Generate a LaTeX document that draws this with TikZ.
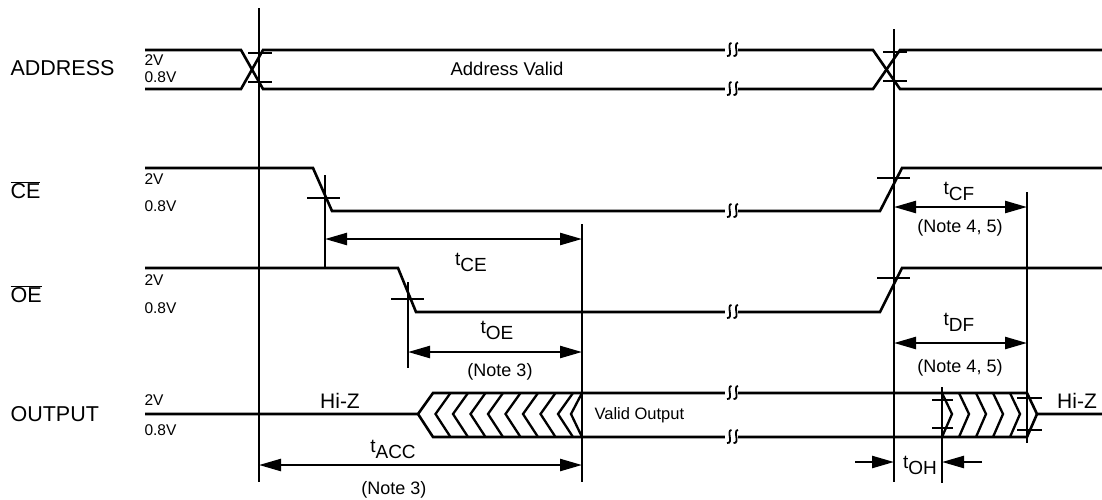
\documentclass[tikz,border=0pt]{standalone}
\usepackage{fontspec}
\setmainfont{Liberation Sans}
\usetikzlibrary{arrows.meta}

\newcommand{\tsub}[1]{t\raisebox{-0.32em}{#1}}
\newcommand{\sigbreak}[2]{%
  \fill[white] (#1-6,#2-3) rectangle (#1+7,#2+3);
  \draw[line width=1.8pt] (#1+0.5,#2-7) .. controls (#1-5,#2-7) and (#1+3,#2+7) .. (#1-4,#2+6);
  \draw[line width=1.8pt] (#1+7,#2-7) .. controls (#1+1.5,#2-7) and (#1+9.5,#2+7) .. (#1+2.5,#2+6);
}

\tikzset{
  sig/.style={line width=2.6pt},
  refline/.style={line width=2.4pt},
  tickline/.style={line width=2.4pt},
  hatch/.style={line width=2.3pt},
  dim/.style={line width=2.4pt, {Triangle[length=22pt,width=12pt]}-{Triangle[length=22pt,width=12pt]}},
  dimr/.style={line width=2.4pt, -{Triangle[length=22pt,width=12pt]}},
  signame/.style={draw=none, anchor=west, font=\fontsize{21.5}{24}\selectfont},
  lvl/.style={draw=none, anchor=west, font=\fontsize{15.5}{17}\selectfont},
  tlbl/.style={draw=none, font=\fontsize{19}{21}\selectfont},
  note/.style={draw=none, font=\fontsize{18}{20}\selectfont},
}

\begin{document}
\begin{tikzpicture}[x=1pt,y=-1pt]
     \useasboundingbox (0,0) rectangle (1102,499);

     \node[signame] (addr) at (7,68) {ADDRESS};
     \node[signame] (ce) at (7,190) {$\overline{\mbox{CE}}$};
     \node[signame] (oe) at (7,294) {$\overline{\mbox{OE}}$};
     \node[signame] (out) at (7,414) {OUTPUT};

     \node[lvl] at (141,60) {2V};    \node[lvl] at (141,77) {0.8V};
     \node[lvl] at (141,179) {2V};   \node[lvl] at (141,206) {0.8V};
     \node[lvl] at (141,280) {2V};   \node[lvl] at (141,308) {0.8V};
     \node[lvl] at (141,400) {2V};   \node[lvl] at (141,430) {0.8V};

     % address bus
     \draw[sig] (145,50) -- (241,50) -- (263,89) -- (873,89) -- (900,50) -- (1102,50);
     \draw[sig] (145,89) -- (241,89) -- (263,50) -- (873,50) -- (900,89) -- (1102,89);
     \draw[tickline] (248,53) -- (272,53);  \draw[tickline] (248,82) -- (272,82);
     \draw[tickline] (883,52) -- (907,52);  \draw[tickline] (883,81) -- (907,81);
     \node[draw=none, font=\fontsize{18.5}{20}\selectfont] (valid) at (507,69) {Address Valid};

     % chip enable
     \draw[sig] (145,168) -- (313,168) -- (332,211) -- (880,211) -- (902,168) -- (1102,168);
     \draw[tickline] (307,198) -- (340,198);
     \draw[tickline] (877,178) -- (910,178);

     % output enable
     \draw[sig] (145,268) -- (398,268) -- (416,312) -- (880,312) -- (902,268) -- (1102,268);
     \draw[tickline] (391,299) -- (424,299);
     \draw[tickline] (877,278) -- (910,278);

     % output
     \draw[sig] (145,414) -- (418,414) -- (433,393) -- (1027,393) -- (1037,414) -- (1102,414);
     \draw[sig] (418,414) -- (433,437) -- (1027,437) -- (1037,414);
     \foreach \k in {1,...,8}
       \draw[hatch] (433+17.5*\k,393) -- (418+17.5*\k,414) -- (433+17.5*\k,437);
     \draw[hatch] (582,393) -- (571,414) -- (582,437);
     \foreach \k in {0,...,4}
       \draw[hatch] (942+17*\k,393) -- (952+17*\k,414) -- (942+17*\k,437);
     \draw[tickline] (932,400) -- (953,400);  \draw[tickline] (932,428) -- (953,428);
     \draw[tickline] (1017,398) -- (1042,398); \draw[tickline] (1017,430) -- (1042,430);
     \node[draw=none, anchor=west, font=\fontsize{16.5}{19}\selectfont] (vout) at (591,415) {Valid Output};
     \node[draw=none, font=\fontsize{21}{24}\selectfont] (hiz1) at (340,401) {Hi-Z};
     \node[draw=none, font=\fontsize{21}{24}\selectfont] (hiz2) at (1077,401) {Hi-Z};

     \sigbreak{731}{50}  \sigbreak{731}{89}
     \sigbreak{731}{211} \sigbreak{731}{312}
     \sigbreak{731}{393} \sigbreak{731}{437}

     % reference lines
     \coordinate (a0) at (259,8);     \coordinate (a1) at (259,482);
     \coordinate (b0) at (894,29);    \coordinate (b1) at (894,482);
     \coordinate (v0) at (582,224);   \coordinate (v1) at (582,482);
     \coordinate (c0) at (325,175);   \coordinate (c1) at (325,268);
     \coordinate (o0) at (408,282);   \coordinate (o1) at (408,368);
     \coordinate (f0) at (1027,192);  \coordinate (f1) at (1027,443);
     \coordinate (h0) at (942,387);   \coordinate (h1) at (942,483);
     \draw[refline] (a0) -- (a1);
     \draw[refline] (b0) -- (b1);
     \draw[refline] (v0) -- (v1);
     \draw[refline] (c0) -- (c1);
     \draw[refline] (o0) -- (o1);
     \draw[refline] (f0) -- (f1);
     \draw[refline] (h0) -- (h1);

     % timing arrows
     \draw[dim] (c0 |- 0,239) -- (v0 |- 0,239);
     \node[tlbl] (tce) at (471,262) {\tsub{CE}};

     \draw[dim] (o0 |- 0,352) -- (v0 |- 0,352);
     \node[tlbl] (toe) at (497,330) {\tsub{OE}};
     \node[note] (n3a) at (500,372) {(Note 3)};

     \draw[dim] (a0 |- 0,465) -- (v0 |- 0,465);
     \node[tlbl] (tacc) at (393,449) {\tsub{ACC}};
     \node[note] (n3b) at (394,490) {(Note 3)};

     \draw[dim] (b0 |- 0,207) -- (f0 |- 0,207);
     \node[tlbl] (tcf) at (959,191) {\tsub{CF}};
     \node[note] (n45a) at (960,228) {(Note 4, 5)};

     \draw[dim] (b0 |- 0,343) -- (f0 |- 0,343);
     \node[tlbl] (tdf) at (959,322) {\tsub{DF}};
     \node[note] (n45b) at (960,368) {(Note 4, 5)};

     \coordinate (ohl) at (855,462);  \coordinate (ohr) at (982,462);
     \draw[dimr] (ohl) -- (b0 |- ohl);
     \draw[dimr] (ohr) -- (h0 |- ohr);
     \node[tlbl] (toh) at (920,465) {\tsub{OH}};
\end{tikzpicture}
\end{document}
